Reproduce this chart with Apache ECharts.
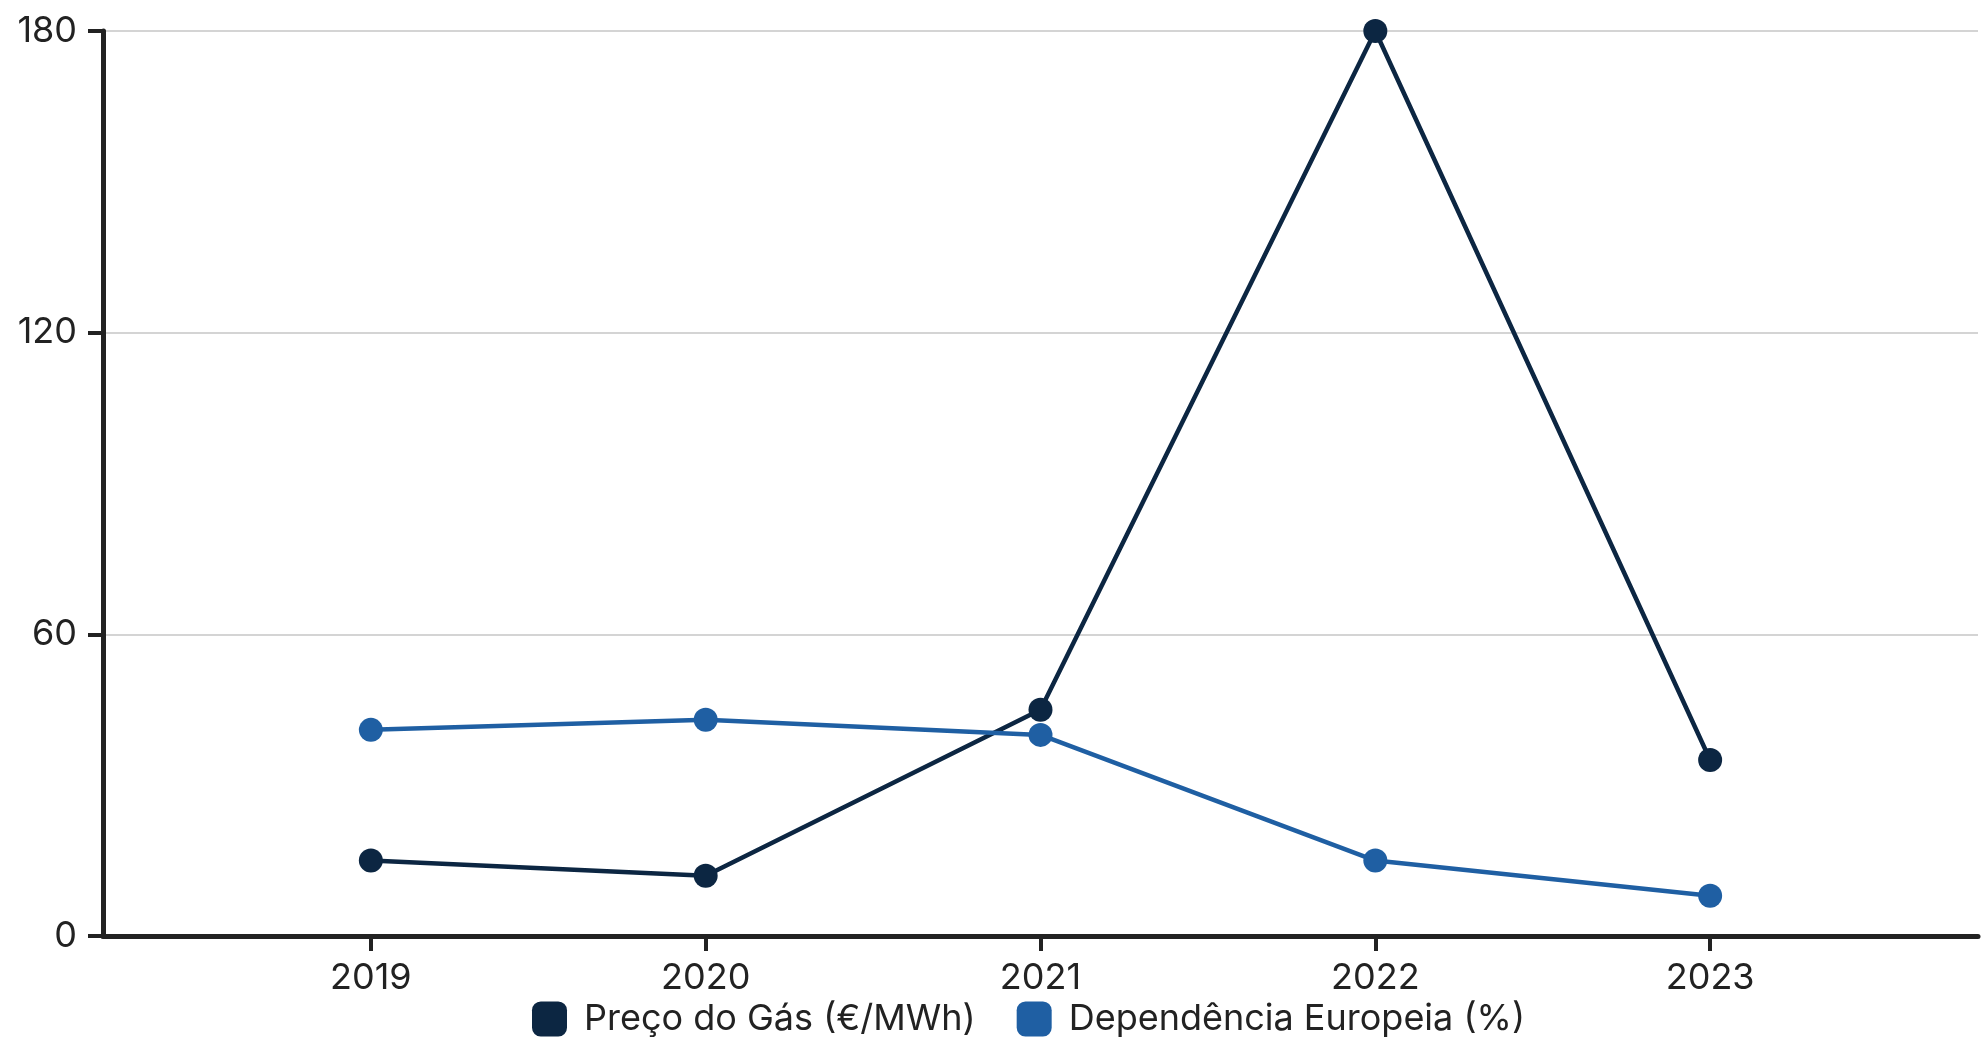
<!DOCTYPE html>
<html>
<head>
<meta charset="utf-8">
<script src="https://cdn.jsdelivr.net/npm/echarts@6/dist/echarts.min.js"></script>
<style>
html,body{margin:0;padding:0;background:#fff;}
#chart{width:1986px;height:1037px;}
</style>
</head>
<body>
<div id="chart"></div>
<script>
const years = [2019, 2020, 2021, 2022, 2023];
const gasPrice = [15, 12, 45, 180, 35];
const dependence = [41, 43, 40, 15, 8];
const yTicks = [0, 60, 120, 180];
const seriesNames = ['Preço do Gás (€/MWh)', 'Dependência Europeia (%)'];

const FONT = 'Inter';
const TEXT = '#222222';
const FS = 36;
const chart = echarts.init(document.getElementById('chart'));

chart.setOption({
  animation: false,
  textStyle: { fontFamily: FONT },
  grid: { left: 103, right: 8, top: 31, bottom: 101, containLabel: false },
  legend: {
    top: 1001,
    left: 532,
    padding: 0,
    itemWidth: 35,
    itemHeight: 35,
    itemGap: 41,
    icon: 'roundRect',
    textStyle: { fontFamily: FONT, fontSize: FS, lineHeight: 35, color: TEXT, padding: [0, 0, 0, 12] },
    data: seriesNames
  },
  xAxis: {
    type: 'value',
    min: 2018.2,
    max: 2023.8,
    axisLine: { show: true, lineStyle: { color: TEXT, width: 5 } },
    axisTick: { show: true, customValues: years, length: 15, lineStyle: { color: TEXT, width: 4 } },
    axisLabel: {
      customValues: years,
      formatter: v => String(v),
      fontFamily: FONT, fontSize: FS, lineHeight: 36, color: TEXT, margin: 24
    },
    splitLine: { show: false }
  },
  yAxis: {
    type: 'value',
    min: yTicks[0],
    max: yTicks[yTicks.length - 1],
    interval: 60,
    axisLine: { show: true, lineStyle: { color: TEXT, width: 5 } },
    axisTick: { show: true, length: 15, lineStyle: { color: TEXT, width: 4 } },
    axisLabel: { fontFamily: FONT, fontSize: FS, color: TEXT, margin: 26 },
    splitLine: { show: true, lineStyle: { color: '#d4d4d4', width: 2 } }
  },
  series: [
    {
      name: seriesNames[0],
      type: 'line',
      data: years.map((y, i) => [y, gasPrice[i]]),
      symbol: 'circle',
      symbolSize: 24,
      color: '#0c2642',
      lineStyle: { width: 4.5, color: '#0c2642' },
      itemStyle: { color: '#0c2642' }
    },
    {
      name: seriesNames[1],
      type: 'line',
      data: years.map((y, i) => [y, dependence[i]]),
      symbol: 'circle',
      symbolSize: 24,
      color: '#1f5fa3',
      lineStyle: { width: 4.5, color: '#1f5fa3' },
      itemStyle: { color: '#1f5fa3' }
    }
  ]
});
</script>
</body>
</html>
